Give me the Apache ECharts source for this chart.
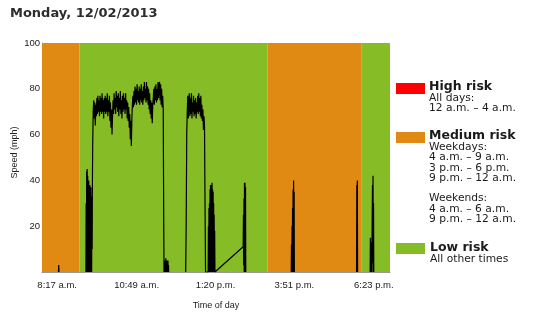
<!DOCTYPE html>
<html>
<head>
<meta charset="utf-8">
<script src="https://cdn.jsdelivr.net/npm/echarts@6/dist/echarts.min.js"></script>
<style>html,body{margin:0;padding:0;background:#fff;}#c{width:539px;height:313px;}</style>
</head>
<body>
<div id="c"></div>
<script>
// ---- data (time in minutes after midnight, speed in mph) ----
const titleText = 'Monday, 12/02/2013';
const xMin = 468, xMax = 1134;
const tickTimes = [497, 649, 800, 951, 1103];
const tickLabels = ['8:17 a.m.', '10:49 a.m.', '1:20 p.m.', '3:51 p.m.', '6:23 p.m.'];
const yTicks = [20, 40, 60, 80, 100];

const mediumRiskRanges = [[468, 540], [900, 1080]];
const lowRiskRanges = [[540, 900], [1080, 1134]];

// trip A: tiny blip
const tripA = [0, 3, 0];                         // from 499.5, every 0.5 min
// trip 1
const burst1 = [0,30,0,44,2,45,0,42,3,38,0,40,2,36,0,38,5,35,0,37,4,33,0,30,10,40,55]; // from 552, every 0.5
const cruise1 = [70,75,67,74,64,73,68,76,69,77,70,75,68,77,70,76,69,78,70,75,
  67,76,70,77,69,76,70,78,68,75,70,77,66,74,63,71,60,68,75,69,
  78,71,76,69,79,72,77,70,78,68,76,71,79,69,75,67,77,70,78,71,
  76,69,78,71,75,67,74,66,72,63,69,58,66,55,67,73,77,72,79,73,
  81,74,80,73,82,75,79,74,81,73,80,75,82,74,79,73,81,75,83,76,
  80,74,83,75,81,73,80,71,78,69,75,67,74,65,73,76,80,73,81,75,
  82,74,80,75,83,76,81,83,75,82,73,80,72,77,71];           // from 566, every 1 min
const stop1 = [20,0,4,0,5,0,3,0,6,0,4,0,5,0,2,0,5,0,3,0,0];  // from 701, every 0.5
// trip 2
const rise2 = [0, 22, 60];                        // from 743, every 1 min
const cruise2 = [70,77,67,75,78,68,76,69,78,67,74,70,77,68,75,69,76,67,74,70,
  77,69,78,70,76,68,77,67,73,66,71,62,68,64];     // from 746, every 1 min
const drop2 = [30, 0];                            // from 780, every 1 min
const burst2 = [0,20,2,28,0,30,5,36,0,38,3,37,0,38,4,39,0,36,2,35,0,30,0,25,0,18,0]; // from 786, every 0.5
const resume2 = [[853, 11]];
const burst2b = [25,3,32,0,39,4,39,0,37,0];       // from 853.5, every 0.5
// trips 3..5: short bursts
const tripF = [0,12,0,20,3,28,0,36,5,40,0,35,0];  // from 945, every 0.5
const tripG = [0,38,0,40,0];                      // from 1070, every 0.5
const tripH = [0,15,0,13,0,10,0,0,0,38,4,42,0,30,0]; // from 1096, every 0.5

function seq(start, step, speeds) {
  return speeds.map((v, i) => [start + i * step, v]);
}
const trips = [
  seq(499.5, 0.5, tripA),
  [].concat(seq(552, 0.5, burst1), seq(566, 1, cruise1), seq(701, 0.5, stop1)),
  [].concat(seq(743, 1, rise2), seq(746, 1, cruise2), seq(780, 1, drop2), seq(786, 0.5, burst2), resume2, seq(853.5, 0.5, burst2b)),
  seq(945, 0.5, tripF),
  seq(1070, 0.5, tripG),
  seq(1096, 0.5, tripH)
];
const lineData = [];
trips.forEach((t, i) => {
  if (i > 0) lineData.push([t[0][0] - 0.25, null]);
  t.forEach(p => lineData.push(p));
});

const ORANGE = '#E08A14';
const GREEN = '#86BD26';
const RED = '#FF0000';

const bandAreas = [];
mediumRiskRanges.forEach(r => bandAreas.push([{ xAxis: r[0], itemStyle: { color: ORANGE } }, { xAxis: r[1] }]));
lowRiskRanges.forEach(r => bandAreas.push([{ xAxis: r[0], itemStyle: { color: GREEN } }, { xAxis: r[1] }]));

const legendFont = 'DejaVu Sans';
function legendText(x, y, text, bold) {
  return {
    type: 'text', x: x, y: y, silent: true,
    style: {
      text: text, fill: '#1a1a1a',
      font: (bold ? 'bold 12.5px ' : '10.7px ') + legendFont,
      textVerticalAlign: 'middle'
    }
  };
}
function swatch(y, color) {
  return { type: 'rect', shape: { x: 396, y: y, width: 29, height: 11 }, style: { fill: color }, silent: true };
}

const chart = echarts.init(document.getElementById('c'), null, { renderer: 'canvas' });
chart.setOption({
  animation: false,
  backgroundColor: '#ffffff',
  title: {
    text: titleText, left: 5, top: 2,
    textStyle: { fontFamily: 'DejaVu Sans', fontWeight: 'bold', fontSize: 13, color: '#2d2d2d' }
  },
  grid: { left: 42, right: 149, top: 43, bottom: 41, containLabel: false, outerBoundsMode: 'none' },
  xAxis: {
    type: 'value', min: xMin, max: xMax,
    name: 'Time of day', nameLocation: 'middle', nameGap: 29,
    nameTextStyle: { fontFamily: 'Liberation Sans', fontSize: 9, color: '#222' },
    axisLine: { show: true, lineStyle: { color: '#999', width: 1 } },
    axisTick: { show: false },
    splitLine: { show: false },
    axisLabel: {
      customValues: tickTimes, margin: 8,
      fontFamily: 'Liberation Sans', fontSize: 9.5, color: '#222',
      formatter: v => { const i = tickTimes.indexOf(v); return i >= 0 ? tickLabels[i] : ''; }
    }
  },
  yAxis: {
    type: 'value', min: 0, max: 100,
    name: 'Speed (mph)', nameLocation: 'middle', nameGap: 23, nameMoveOverlap: false,
    nameTextStyle: { fontFamily: 'Liberation Sans', fontSize: 9, color: '#222', padding: [0, 0, 0, 10] },
    axisLine: { show: true, lineStyle: { color: '#999', width: 1 } },
    axisTick: { show: false },
    splitLine: { show: false },
    axisLabel: {
      customValues: yTicks, margin: 2,
      fontFamily: 'Liberation Sans', fontSize: 9.5, color: '#222'
    }
  },
  series: [{
    type: 'line', data: lineData, showSymbol: false, symbol: 'none',
    connectNulls: false, z: 3,
    lineStyle: { color: '#000', width: 1.2 },
    markArea: { silent: true, data: bandAreas, z: 1 }
  }],
  graphic: [
    swatch(83, RED),
    legendText(429, 87, 'High risk', true),
    legendText(429, 98, 'All days:'),
    legendText(429, 108.5, '12 a.m. – 4 a.m.'),
    swatch(132, ORANGE),
    legendText(429, 136, 'Medium risk', true),
    legendText(429, 147, 'Weekdays:'),
    legendText(429, 157.5, '4 a.m. – 9 a.m.'),
    legendText(429, 168, '3 p.m. – 6 p.m.'),
    legendText(429, 178.5, '9 p.m. – 12 a.m.'),
    legendText(429, 198.5, 'Weekends:'),
    legendText(429, 209, '4 a.m. – 6 a.m.'),
    legendText(429, 219.5, '9 p.m. – 12 a.m.'),
    swatch(243, GREEN),
    legendText(430, 248, 'Low risk', true),
    legendText(430, 259, 'All other times')
  ]
});
</script>
</body>
</html>
